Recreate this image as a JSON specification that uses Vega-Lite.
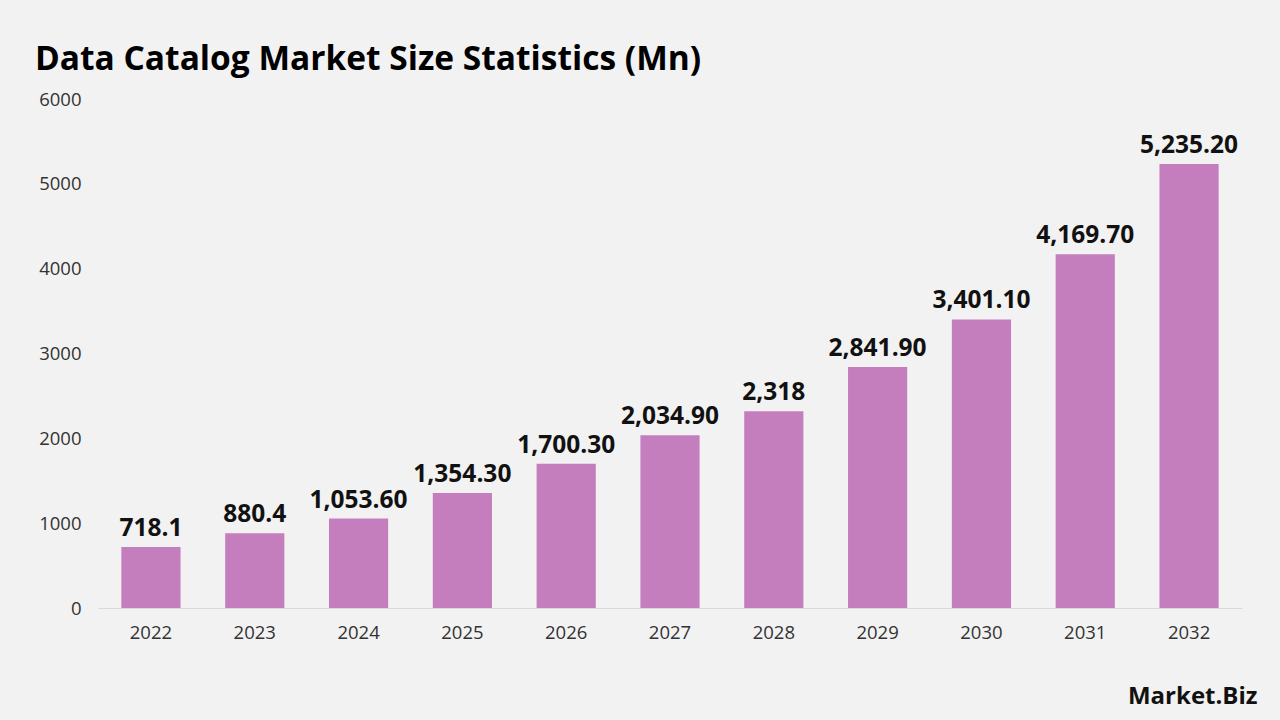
{
  "$schema": "https://vega.github.io/schema/vega-lite/v6.json",
  "width": 1144,
  "height": 509,
  "autosize": {"type": "none"},
  "padding": {"left": 98, "top": 99, "right": 38, "bottom": 112},
  "background": "#f2f2f2",
  "title": {
    "text": "Data Catalog Market Size Statistics (Mn)",
    "anchor": "start",
    "frame": "group",
    "font": "Open Sans",
    "fontSize": 33.5,
    "fontWeight": "bold",
    "color": "#000000",
    "dx": -63,
    "offset": 13
  },
  "data": {
    "values": [
      {"year": "2022", "value": 718.1, "label": "718.1"},
      {"year": "2023", "value": 880.4, "label": "880.4"},
      {"year": "2024", "value": 1053.6, "label": "1,053.60"},
      {"year": "2025", "value": 1354.3, "label": "1,354.30"},
      {"year": "2026", "value": 1700.3, "label": "1,700.30"},
      {"year": "2027", "value": 2034.9, "label": "2,034.90"},
      {"year": "2028", "value": 2318, "label": "2,318"},
      {"year": "2029", "value": 2841.9, "label": "2,841.90"},
      {"year": "2030", "value": 3401.1, "label": "3,401.10"},
      {"year": "2031", "value": 4169.7, "label": "4,169.70"},
      {"year": "2032", "value": 5235.2, "label": "5,235.20"}
    ]
  },
  "encoding": {
    "x": {
      "field": "year",
      "type": "ordinal",
      "scale": {"paddingInner": 0.43, "paddingOuter": 0.225},
      "axis": {
        "title": "Market.Biz",
        "titleFont": "Open Sans",
        "titleFontSize": 24,
        "titleFontWeight": "bold",
        "titleColor": "#111111",
        "titleAnchor": "end",
        "titleAlign": "right",
        "titleBaseline": "alphabetic",
        "titleX": 1159,
        "titleY": 95,
        "labelAngle": 0,
        "labelFont": "Open Sans",
        "labelFontSize": 18.5,
        "labelColor": "#333333",
        "labelPadding": 15,
        "ticks": false,
        "domainColor": "#d9d9d9",
        "domainWidth": 1
      }
    },
    "y": {
      "field": "value",
      "type": "quantitative",
      "scale": {"domain": [0, 6000]},
      "axis": {
        "title": null,
        "values": [0, 1000, 2000, 3000, 4000, 5000, 6000],
        "format": "d",
        "grid": false,
        "domain": false,
        "ticks": false,
        "labelFont": "Open Sans",
        "labelFontSize": 18.5,
        "labelColor": "#333333",
        "labelPadding": 17
      }
    }
  },
  "layer": [
    {"mark": {"type": "bar", "color": "#c47dbd"}},
    {
      "mark": {
        "type": "text",
        "dy": -18,
        "font": "Open Sans",
        "fontSize": 24.5,
        "fontWeight": "bold",
        "color": "#111111"
      },
      "encoding": {"text": {"field": "label"}}
    }
  ],
  "config": {"view": {"stroke": null}}
}
